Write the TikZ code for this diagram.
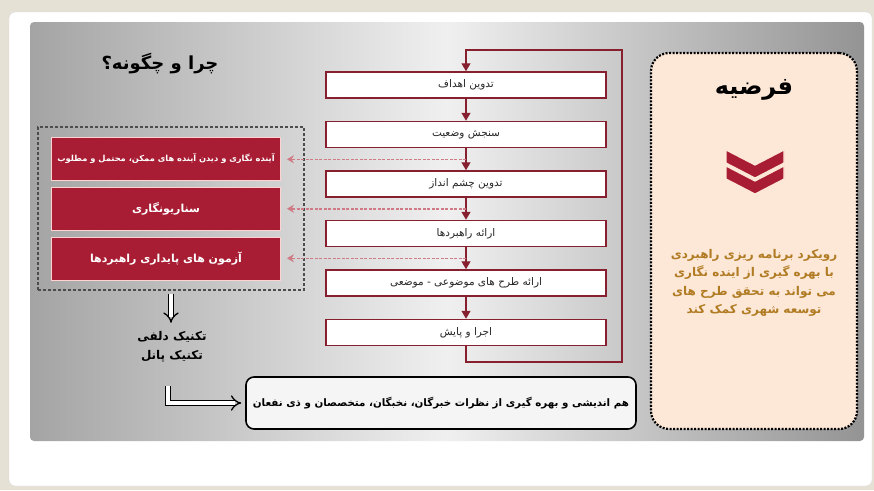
\documentclass[tikz,border=0pt]{standalone}
\usepackage{fontspec}
\usepackage{xcolor}
\usepackage{tikz}
\usetikzlibrary{shapes.geometric, arrows, arrows.meta, positioning, fit, calc, backgrounds}
\TeXXeTstate=1
\newfontfamily\farsi[Script=Arabic]{DejaVu Sans}
\definecolor{framebeige}{HTML}{E6E1D5}
\definecolor{panelgray}{HTML}{A4A4A4}
\definecolor{boxred}{HTML}{86202F}
\definecolor{crimson}{HTML}{A81D33}
\definecolor{dashpink}{HTML}{D07A86}
\definecolor{peach}{HTML}{FDE8D8}
\definecolor{goldtext}{HTML}{B07B22}

\begin{document}
\begin{tikzpicture}[
    x=1pt, y=-1pt,
    node distance=22pt and 10pt,
    flowbox/.style={draw=boxred, line width=1.5pt, fill=white, minimum width=280pt, minimum height=26pt, inner sep=2pt, text=black!85, font=\farsi\fontsize{10.5}{12}\selectfont},
    redbox/.style={draw=pink!70!white, line width=0.8pt, fill=crimson, minimum width=229pt, minimum height=43pt, text=white, font=\farsi\bfseries\fontsize{11}{13}\selectfont},
    groupbox/.style={draw=gray!60!black, line width=1.6pt, dash pattern=on 3pt off 2pt, inner sep=0pt},
    arrow/.style={boxred, line width=1.3pt, -{Triangle[width=9pt,length=8pt]}},
    dasharrow/.style={dashpink, line width=1.5pt, dash pattern=on 3pt off 1.5pt, -{Stealth[width=8pt,length=7pt]}},
    hollow/.style={draw=black, double=white, double distance=4pt, line width=1.3pt, -{Implies}},
    handtext/.style={text=black, font=\farsi\bfseries\fontsize{12}{14}\selectfont}
]
\useasboundingbox (0,0) rectangle (874,490);

% frame and panel
\fill[framebeige] (0,0) rectangle (874,490);
\fill[white, draw=gray!30, rounded corners=6pt] (9,12) rectangle (872,486);
\shade[left color=panelgray, right color=panelgray!90!black, middle color=gray!12, rounded corners=4pt] (30,22) rectangle (864,441);

% main flow
\node[flowbox] (goals) at (466,85) {\beginR تدوین اهداف\endR};
\node[flowbox, below=of goals] (status) {\beginR سنجش وضعیت\endR};
\node[flowbox, below=of status] (vision) {\beginR تدوین چشم انداز\endR};
\node[flowbox, below=of vision] (strategy) {\beginR ارائه راهبردها\endR};
\node[flowbox, below=of strategy] (plans) {\beginR ارائه طرح های موضوعی - موضعی\endR};
\node[flowbox, below=of plans] (monitor) {\beginR اجرا و پایش\endR};

\draw[arrow] (goals) -- (status);
\draw[arrow] (status) -- (vision);
\draw[arrow] (vision) -- (strategy);
\draw[arrow] (strategy) -- (plans);
\draw[arrow] (plans) -- (monitor);

\coordinate (loopbr) at (622,362);
\coordinate (looptr) at (622,50);
\draw[arrow] (monitor.south) |- (loopbr) -- (looptr) -| (goals.north);

% foresight techniques
\node[font=\farsi\bfseries\fontsize{18}{20}\selectfont] (why) at (160,64) {\beginR چرا و چگونه؟\endR};
\node[redbox, font=\farsi\bfseries\fontsize{8.3}{11}\selectfont] (foresight) at (166,159) {\beginR آینده نگاری و دیدن آینده های ممکن، محتمل و مطلوب\endR};
\node[redbox, below=6pt of foresight] (scenario) {\beginR سناریونگاری\endR};
\node[redbox, below=6pt of scenario] (stresstest) {\beginR آزمون های پایداری راهبردها\endR};

\coordinate (grpnw) at (38,127);
\coordinate (grpse) at (304,290);
\node[groupbox, fit=(grpnw)(grpse)] (techgroup) {};

\coordinate (tap1) at ($(status.south)!0.5!(vision.north)$);
\coordinate (tap2) at ($(vision.south)!0.5!(strategy.north)$);
\coordinate (tap3) at ($(strategy.south)!0.5!(plans.north)$);
\draw[dasharrow] (tap1) -- ([xshift=6pt]tap1 -| foresight.east);
\draw[dasharrow] (tap2) -- ([xshift=6pt]tap2 -| scenario.east);
\draw[dasharrow] (tap3) -- ([xshift=6pt]tap3 -| stresstest.east);

% delphi / panel
\draw[hollow, shorten <=3pt] (techgroup.south) -- ++(0,32);
\node[handtext] (delphi) at (172,337) {\beginR تکنیک دلفی\endR};
\node[handtext, below=1pt of delphi] (panel) {\beginR تکنیک پانل\endR};

\node[draw=black, line width=1.6pt, rounded corners=8pt, fill=gray!8, minimum width=390pt, minimum height=52pt, text=black, font=\farsi\bfseries\fontsize{10.3}{13}\selectfont] (consensus) at (441,403) {\beginR هم اندیشی و بهره گیری از نظرات خبرگان، نخبگان، متخصصان و ذی نفعان\endR};
\coordinate (bendtop) at (168,386);
\draw[hollow, shorten >=4pt] (bendtop) |- (consensus.west);

% hypothesis
\node[draw=black, line width=2.2pt, dash pattern=on 2pt off 1.5pt, fill=peach, rounded corners=18pt, minimum width=206pt, minimum height=376pt] (hypbox) at (754,241) {};
\node[font=\farsi\bfseries\fontsize{24}{26}\selectfont] (hyptitle) at (754,90) {\beginR فرضیه\endR};
\fill[crimson, draw=peach, line width=1.2pt] (726,166) -- (755,181) -- (784,166) -- (784,179) -- (755,194) -- (726,179) -- cycle;
\fill[crimson, draw=peach, line width=1.2pt] (726,150) -- (755,165) -- (784,150) -- (784,163) -- (755,178) -- (726,163) -- cycle;
\node[align=center, text=goldtext, font=\farsi\bfseries\fontsize{12}{18.5}\selectfont] (hyptext) at (754,283) {\beginR رویکرد برنامه ریزی راهبردی\endR\\ \beginR با بهره گیری از اینده نگاری\endR\\ \beginR می تواند به تحقق طرح های\endR\\ \beginR توسعه شهری کمک کند\endR};
\end{tikzpicture}
\end{document}
